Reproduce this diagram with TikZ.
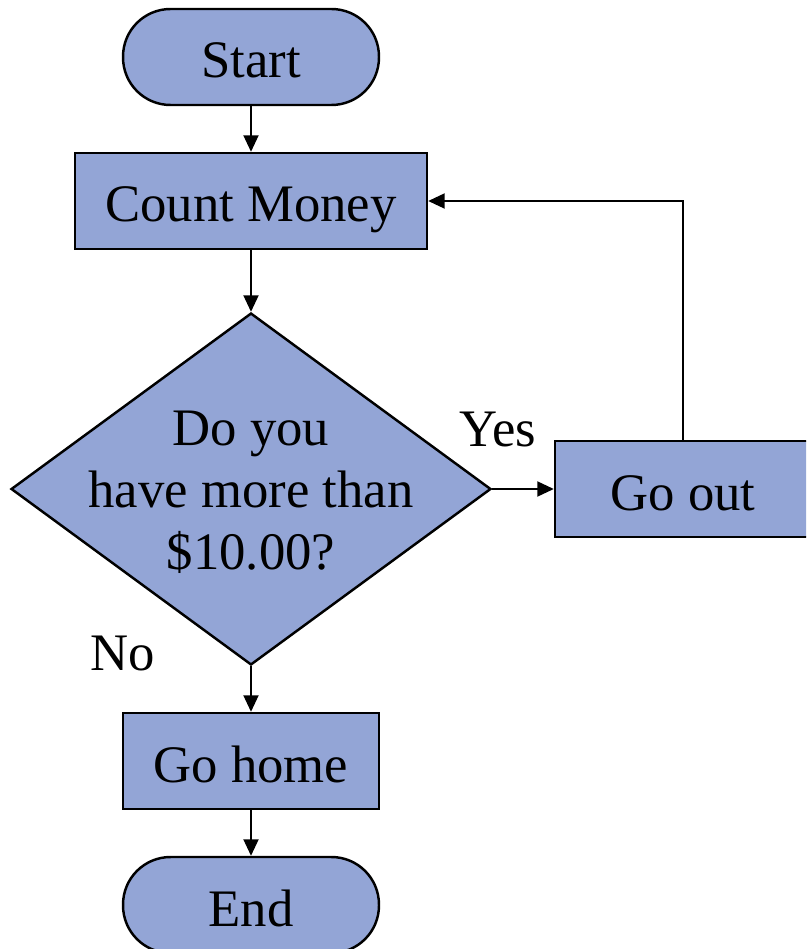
\documentclass[tikz,border=0pt]{standalone}
\usepackage{fontspec}
\setmainfont{Liberation Serif}
\usepackage{tikz}
\usetikzlibrary{arrows.meta,shapes.geometric}
\definecolor{boxblue}{HTML}{93A5D6}
\tikzset{every node/.style={font=\fontsize{30}{35.2}\selectfont},
    box/.style={draw, fill=boxblue, line width=1.4pt, rectangle,
        minimum height=1.92cm, inner sep=0pt,
        text height=1.0cm, text depth=0.16cm},
    term/.style={box, rounded corners=0.95cm, minimum width=5.12cm},
    decision/.style={draw, fill=boxblue, line width=1.4pt, diamond,
        minimum width=9.6cm, minimum height=7.04cm, inner sep=0pt},
    arr/.style={line width=1.1pt, -{Triangle[length=0.33cm,width=0.3cm]}},}

\begin{document}
\begin{tikzpicture}[x=0.02cm, y=-0.02cm]
  \useasboundingbox (0,0) rectangle (806,949);
  \begin{scope}
  \clip (0,0) rectangle (806,949);
  \node[term] (start) at (251,57) {Start};
  \node[box, minimum width=7.04cm] (count) at (251,201) {Count Money};
  \node[decision] (check) at (251,489) {};
  \node[align=center] (question) at (251,492) {Do you\\have more than\\\$10.00?};
  \node[box, minimum width=5.12cm] (goout) at (683,489) {Go out};
  \node[box, minimum width=5.12cm] (gohome) at (251,761) {Go home};
  \node[term] (finish) at (251,905) {End};
  \node (yes) at (498,429) {Yes};
  \node (no) at (123,653) {No};
  \draw[arr] (start)--(count);
  \draw[arr] (count)--(check);
  \draw[arr] (check.east)--(goout.west);
  \draw[arr] (check.south)--(gohome);
  \draw[arr] (gohome)--(finish);
  \draw[arr] (goout.north) |- (count.east);
  \end{scope}
\end{tikzpicture}
\end{document}
